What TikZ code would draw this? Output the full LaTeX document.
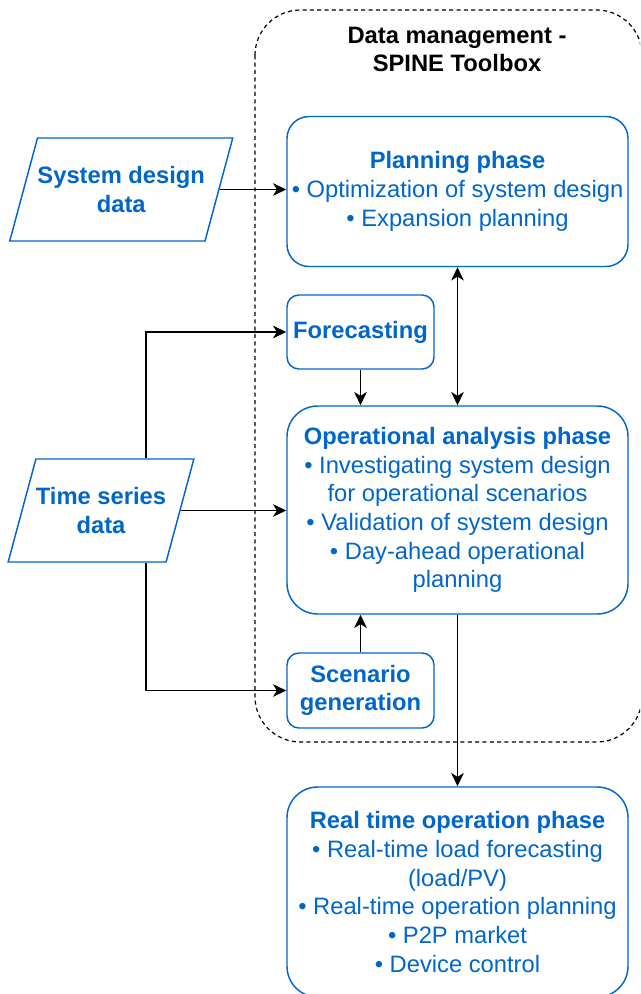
\documentclass[tikz,border=0pt]{standalone}
\usepackage{fontspec}
\setmainfont{Liberation Sans}
\usetikzlibrary{shapes.geometric,arrows.meta}
\definecolor{phaseblue}{HTML}{0066CC}

\begin{document}
\begin{tikzpicture}[x=0.75pt, y=-0.75pt,
    font=\fontsize{17.8}{21.5}\selectfont,
    >={Stealth[length=10pt, width=9.5pt, inset=3pt]},
    phase/.style={rectangle, draw=phaseblue, line width=1.1pt, text=phaseblue, align=center, inner sep=0pt},
    inputdata/.style={trapezium, trapezium left angle=74, trapezium right angle=106, trapezium stretches body,
      draw=phaseblue, line width=1.1pt, text=phaseblue, font=\fontsize{17.8}{21.5}\selectfont\bfseries,
      align=center, inner xsep=0pt, inner ysep=19pt, minimum height=77.25pt},
    flow/.style={draw=black, line width=1pt}]
  \clip (0,0) rectangle (640,994);

  % Data management container
  \draw[dashed, dash pattern=on 3pt off 2.5pt, line width=0.9pt, rounded corners=34pt] (255,10) rectangle (642,742);
  \node[font=\fontsize{17.8}{21}\selectfont\bfseries, align=center] at (457,49) (title) {Data management -\\SPINE Toolbox};

  % Nodes
  \node[inputdata, minimum width=166.5pt] at (121.25,189.5) (sdd) {System design\\data};
  \node[inputdata, minimum width=135.75pt] at (101,510.5) (tsd) {Time series\\data};

  \node[phase, minimum width=255.75pt, minimum height=112.5pt, rounded corners=16.5pt] at (457.5,191.5) (plan) {\textbf{Planning phase}\\• Optimization of system design\\• Expansion planning};
  \node[phase, minimum width=110.25pt, minimum height=55.5pt, rounded corners=9pt] at (360.5,332) (fc) {\textbf{Forecasting}};
  \node[phase, minimum width=255.75pt, minimum height=156pt, rounded corners=23pt] at (457.5,510) (op) {\textbf{Operational analysis phase}\\• Investigating system design\\for operational scenarios\\• Validation of system design\\• Day-ahead operational\\planning};
  \node[phase, minimum width=110.25pt, minimum height=56.25pt, rounded corners=9pt] at (360.5,690.5) (sg) {\textbf{Scenario}\\\textbf{generation}};
  \node[phase, minimum width=255.75pt, minimum height=157.5pt, rounded corners=23pt] at (457.5,892) (rt) {\textbf{Real time operation phase}\\• Real-time load forecasting\\(load/PV)\\• Real-time operation planning\\• P2P market\\• Device control};

  % Connectors
  \draw[flow, ->] (sdd.east) -- (sdd.east -| plan.west);
  \draw[flow, <->] (plan) -- (op);
  \draw[flow, ->] (fc.south) -- (fc.south |- op.north);
  \draw[flow, ->] (sg.north) -- (sg.north |- op.south);
  \draw[flow, ->] (op) -- (rt);

  \draw[flow, ->] (tsd.north) ++(45,0) |- (fc);
  \draw[flow, ->] (tsd.east) -- (tsd.east -| op.west);
  \draw[flow, ->] (tsd.south) ++(45,0) |- (sg);
\end{tikzpicture}
\end{document}
